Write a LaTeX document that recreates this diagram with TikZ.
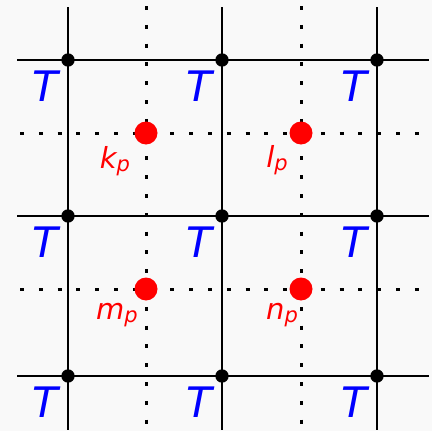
\documentclass[tikz,border=0pt]{standalone}
\usepackage{fontspec}
\setmainfont{DejaVu Sans}
\usetikzlibrary{calc}
\definecolor{bgray}{RGB}{249,249,249}
\newcommand{\psub}[2]{#1\raisebox{-3pt}{\fontsize{21}{21}\selectfont #2}}
\tikzset{
  gridline/.style={line width=2pt,black},
  dotline/.style={line width=3pt,black,dash pattern=on 4pt off 14.8pt},
  cross/.style={circle,fill=black,inner sep=0pt,minimum size=13.4pt},
  site/.style={circle,fill=red,inner sep=0pt,minimum size=23pt},
  tlabel/.style={text=blue,font=\fontsize{42}{42}\selectfont\itshape,inner sep=0pt},
  plabel/.style={text=red,font=\fontsize{29}{29}\selectfont\itshape,inner sep=0pt}}

\begin{document}
\begin{tikzpicture}[x=1pt,y=-1pt]
\fill[bgray] (0,0) rectangle (432,431);
\useasboundingbox (0,0) rectangle (432,431);
% dotted mid lines
\foreach \x in {146,301} \draw[dotline] (\x,6) -- (\x,431);
\foreach \y in {133,289} \draw[dotline] (20,\y) -- (432,\y);
% solid grid
\foreach \x in {68,222,377} \draw[gridline] (\x,7) -- (\x,430);
\foreach \y in {60,216,376} \draw[gridline] (17,\y) -- (429,\y);
% crossings and T labels
\foreach \x [count=\i] in {68,222,377}
  \foreach \y [count=\j] in {60,216,376}{
    \node[cross] (c\i\j) at (\x,\y) {};
    \node[tlabel] (t\i\j) at ($(c\i\j)+(-23,26)$) {T};
  }
% sites
\node[site] (k) at (146,133) {};
\node[site] (l) at (301,133) {};
\node[site] (m) at (146,289) {};
\node[site] (n) at (301,289) {};
\node[plabel] (kl) at ($(k)+(-31,28)$) {\psub{k}{p}};
\node[plabel] (ll) at ($(l)+(-24,27)$) {\psub{l}{p}};
\node[plabel] (ml) at ($(m)+(-29,26)$) {\psub{m}{p}};
\node[plabel] (nl) at ($(n)+(-19,26)$) {\psub{n}{p}};
\end{tikzpicture}
\end{document}
